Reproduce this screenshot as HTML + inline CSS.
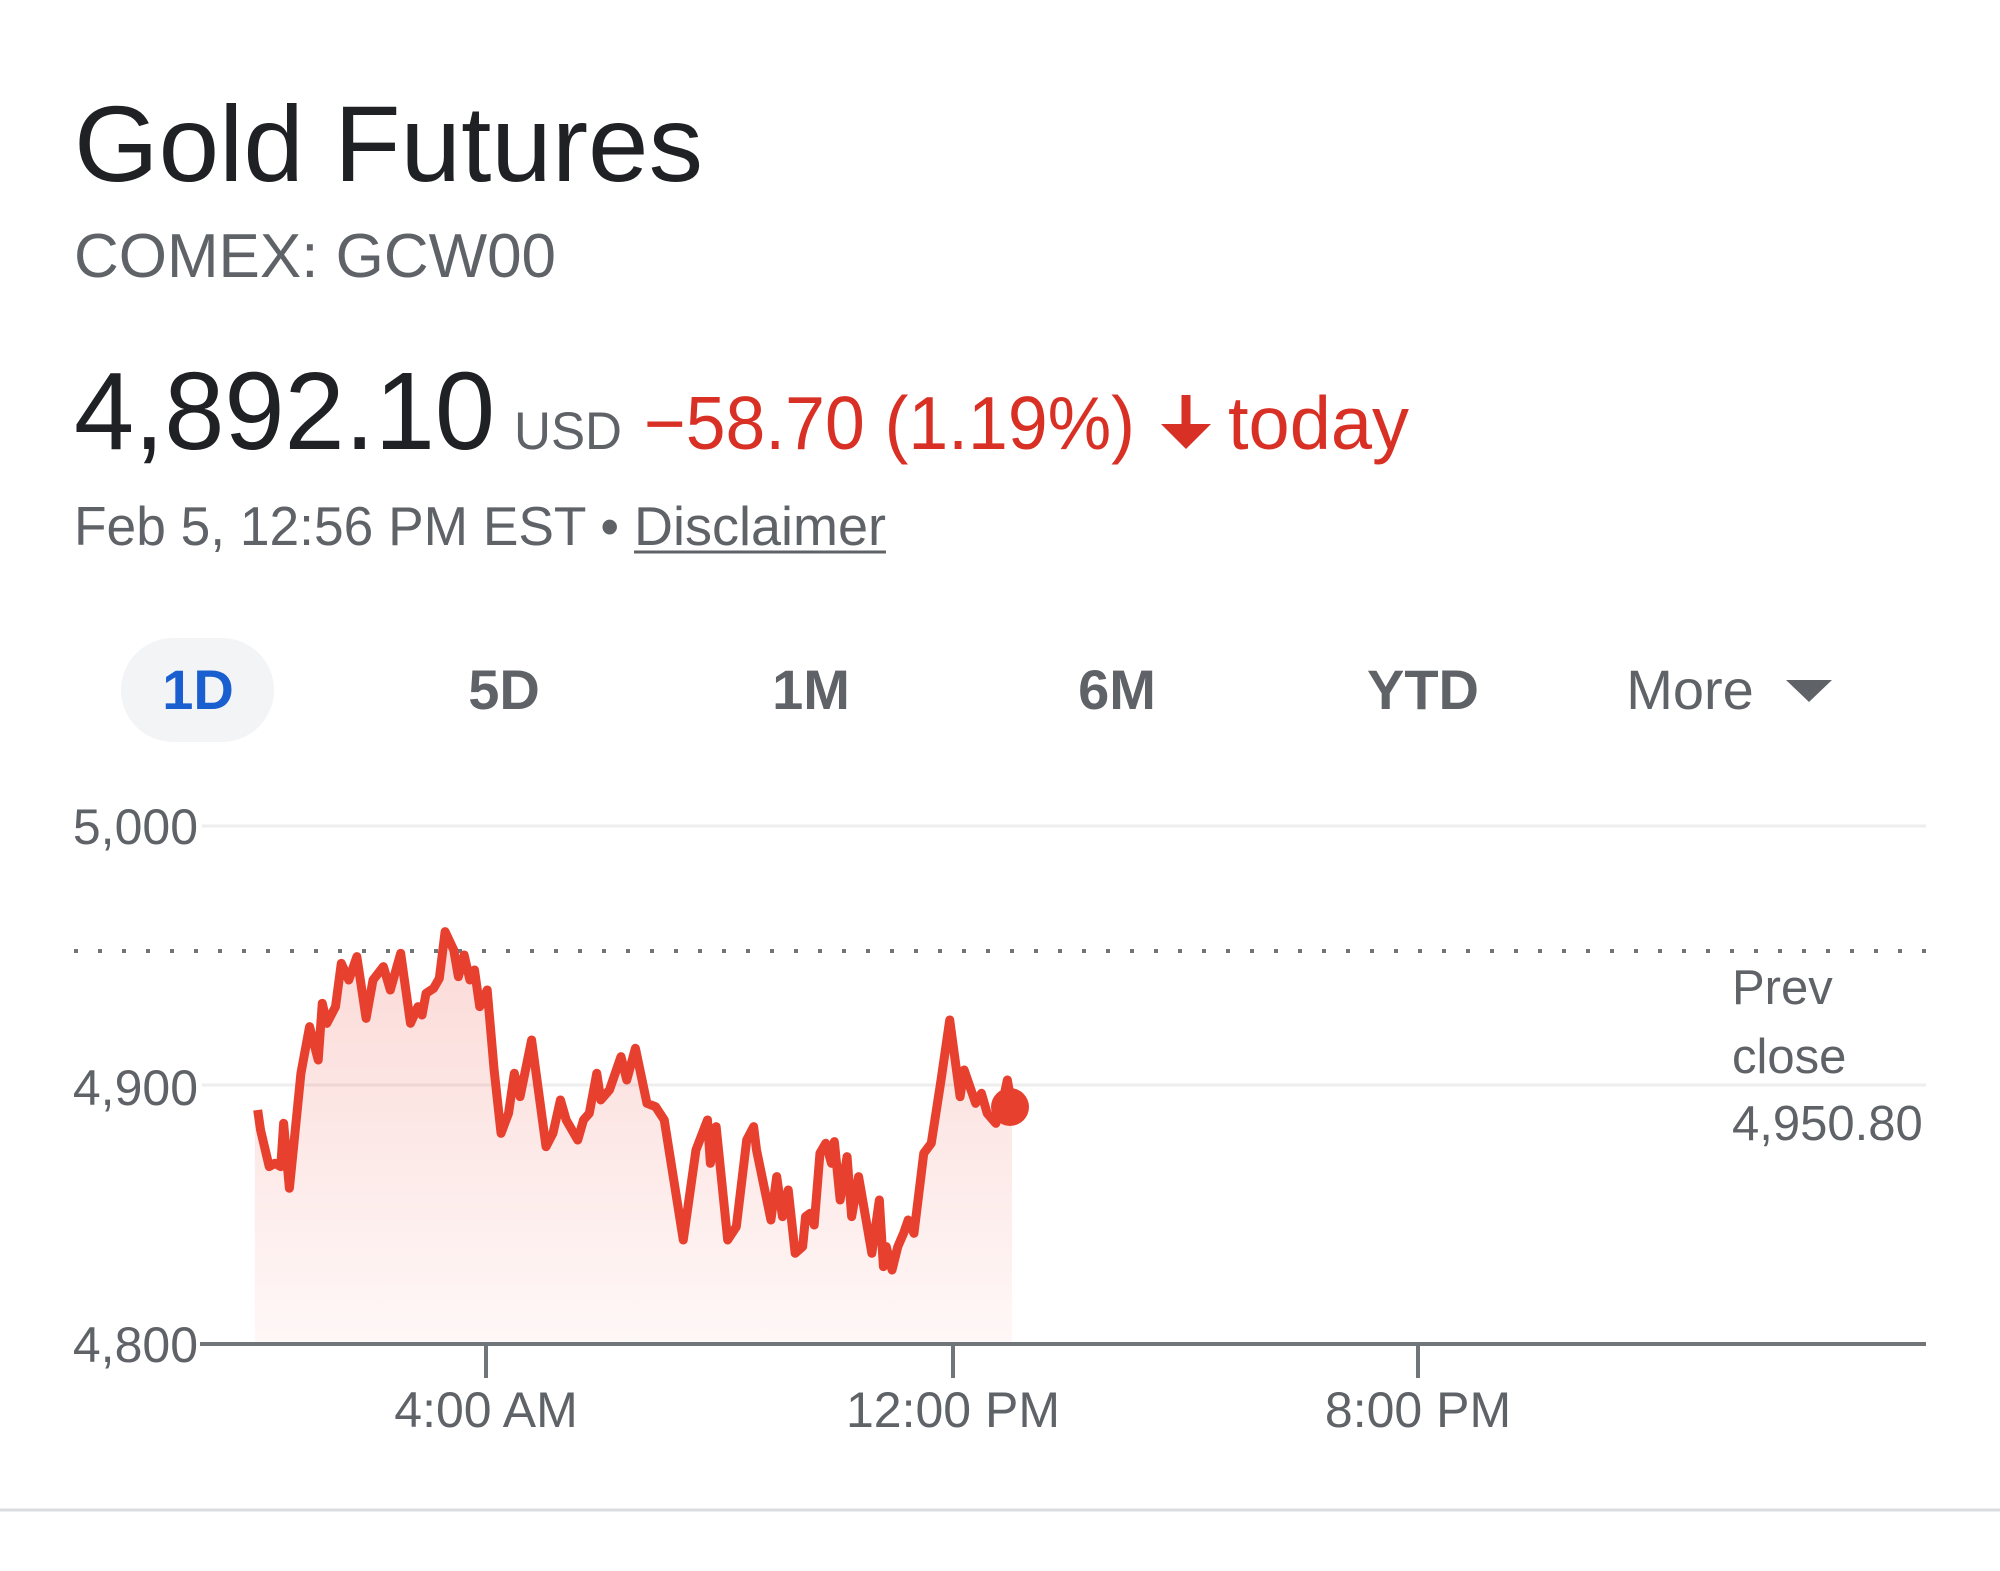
<!DOCTYPE html>
<html><head><meta charset="utf-8"><style>
html,body{margin:0;padding:0;background:#fff}
svg{display:block}
text{font-family:"Liberation Sans",Arial,sans-serif}
</style></head><body>
<svg width="2000" height="1571" viewBox="0 0 2000 1571" xmlns="http://www.w3.org/2000/svg">
<defs>
<linearGradient id="g" x1="0" y1="0" x2="0" y2="1">
<stop offset="0" stop-color="#ea4335" stop-opacity="0.20"/>
<stop offset="1" stop-color="#ea4335" stop-opacity="0.04"/>
</linearGradient>
</defs>
<text x="74" y="181" font-size="108" fill="#202124" textLength="629" lengthAdjust="spacingAndGlyphs">Gold Futures</text>
<text x="74" y="277" font-size="62" fill="#5f6368" textLength="482" lengthAdjust="spacingAndGlyphs">COMEX: GCW00</text>
<text x="74" y="449" font-size="110" fill="#202124" textLength="421" lengthAdjust="spacingAndGlyphs">4,892.10</text>
<text x="514" y="449" font-size="53" fill="#5f6368" textLength="108" lengthAdjust="spacingAndGlyphs">USD</text>
<text x="644" y="449" font-size="75" fill="#d93025" textLength="491" lengthAdjust="spacingAndGlyphs">−58.70 (1.19%)</text>
<line x1="1186" y1="395" x2="1186" y2="430" stroke="#d93025" stroke-width="9"/>
<polygon points="1161,424 1211,424 1186,449" fill="#d93025"/>
<text x="1228" y="449" font-size="75" fill="#d93025" textLength="181" lengthAdjust="spacingAndGlyphs">today</text>
<text x="74" y="545" font-size="55" fill="#5f6368" textLength="545" lengthAdjust="spacingAndGlyphs">Feb 5, 12:56 PM EST •</text>
<text x="634" y="545" font-size="55" fill="#5f6368" textLength="252" lengthAdjust="spacingAndGlyphs">Disclaimer</text>
<line x1="634" y1="552" x2="886" y2="552" stroke="#5f6368" stroke-width="3"/>
<rect x="121" y="638" width="153" height="104" rx="52" fill="#f3f4f6"/>
<g font-size="56" font-weight="bold" text-anchor="middle">
<text x="198" y="709" fill="#1a5fd0">1D</text>
<text x="504" y="709" fill="#5f6368">5D</text>
<text x="811" y="709" fill="#5f6368">1M</text>
<text x="1117" y="709" fill="#5f6368">6M</text>
<text x="1423" y="709" fill="#5f6368">YTD</text>
</g>
<text x="1690" y="709" font-size="56" fill="#5f6368" text-anchor="middle">More</text>
<polygon points="1786,680 1832,680 1809,702" fill="#5f6368"/>
<line x1="202" y1="826" x2="1926" y2="826" stroke="#eeeeee" stroke-width="3"/>
<line x1="202" y1="1085" x2="1926" y2="1085" stroke="#eeeeee" stroke-width="3"/>
<line x1="74" y1="951" x2="1926" y2="951" stroke="#70757a" stroke-width="4" stroke-dasharray="4,20"/>
<g font-size="50" fill="#5f6368" text-anchor="end">
<text x="198" y="844">5,000</text>
<text x="198" y="1105">4,900</text>
<text x="198" y="1362">4,800</text>
</g>
<g transform="translate(200,900) scale(0.5767,0.3333)">
<polygon fill="url(#g)" points="95,630 100,630 105,690 120,800 130,790 140,800 145,670 155,865 160,780 175,520 190,380 205,480 212,310 220,370 235,320 245,190 258,240 272,170 288,355 300,240 318,200 330,270 348,160 365,370 378,320 385,345 392,280 405,265 415,235 425,95 440,150 448,230 458,165 468,240 476,210 485,320 498,270 510,510 522,700 535,640 545,520 555,590 575,420 600,740 612,700 625,600 635,660 655,720 665,660 675,640 688,520 695,600 710,570 730,470 740,540 755,445 775,610 790,620 805,660 838,1020 860,750 880,660 885,790 895,680 915,1020 930,980 948,720 960,680 965,750 990,960 1000,830 1010,950 1020,870 1032,1060 1045,1040 1050,950 1058,940 1065,975 1075,760 1085,730 1095,790 1100,725 1110,900 1122,770 1130,950 1142,830 1165,1060 1178,900 1185,1100 1190,1040 1200,1110 1210,1040 1220,1000 1228,960 1238,1000 1255,760 1268,730 1285,540 1300,360 1318,590 1325,510 1345,610 1355,580 1365,640 1380,670 1390,620 1400,540 1408,620 1408,1325 95,1325"/>
<polyline fill="none" stroke="#e8402f" stroke-width="9" vector-effect="non-scaling-stroke" stroke-linejoin="round" points="100,630 105,690 120,800 130,790 140,800 145,670 155,865 160,780 175,520 190,380 205,480 212,310 220,370 235,320 245,190 258,240 272,170 288,355 300,240 318,200 330,270 348,160 365,370 378,320 385,345 392,280 405,265 415,235 425,95 440,150 448,230 458,165 468,240 476,210 485,320 498,270 510,510 522,700 535,640 545,520 555,590 575,420 600,740 612,700 625,600 635,660 655,720 665,660 675,640 688,520 695,600 710,570 730,470 740,540 755,445 775,610 790,620 805,660 838,1020 860,750 880,660 885,790 895,680 915,1020 930,980 948,720 960,680 965,750 990,960 1000,830 1010,950 1020,870 1032,1060 1045,1040 1050,950 1058,940 1065,975 1075,760 1085,730 1095,790 1100,725 1110,900 1122,770 1130,950 1142,830 1165,1060 1178,900 1185,1100 1190,1040 1200,1110 1210,1040 1220,1000 1228,960 1238,1000 1255,760 1268,730 1285,540 1300,360 1318,590 1325,510 1345,610 1355,580 1365,640 1380,670 1390,620 1400,540 1408,620"/>
</g>
<circle cx="1010" cy="1107" r="19" fill="#e8402f"/>
<line x1="200" y1="1344" x2="1926" y2="1344" stroke="#70757a" stroke-width="4"/>
<g stroke="#70757a" stroke-width="4">
<line x1="486" y1="1344" x2="486" y2="1378"/>
<line x1="953" y1="1344" x2="953" y2="1378"/>
<line x1="1418" y1="1344" x2="1418" y2="1378"/>
</g>
<g font-size="50" fill="#5f6368" text-anchor="middle">
<text x="486" y="1427">4:00 AM</text>
<text x="953" y="1427">12:00 PM</text>
<text x="1418" y="1427">8:00 PM</text>
</g>
<g font-size="49" fill="#5f6368">
<text x="1732" y="1004">Prev</text>
<text x="1732" y="1073">close</text>
<text x="1732" y="1140">4,950.80</text>
</g>
<line x1="0" y1="1510" x2="2000" y2="1510" stroke="#dadce0" stroke-width="3"/>
</svg>
</body></html>
